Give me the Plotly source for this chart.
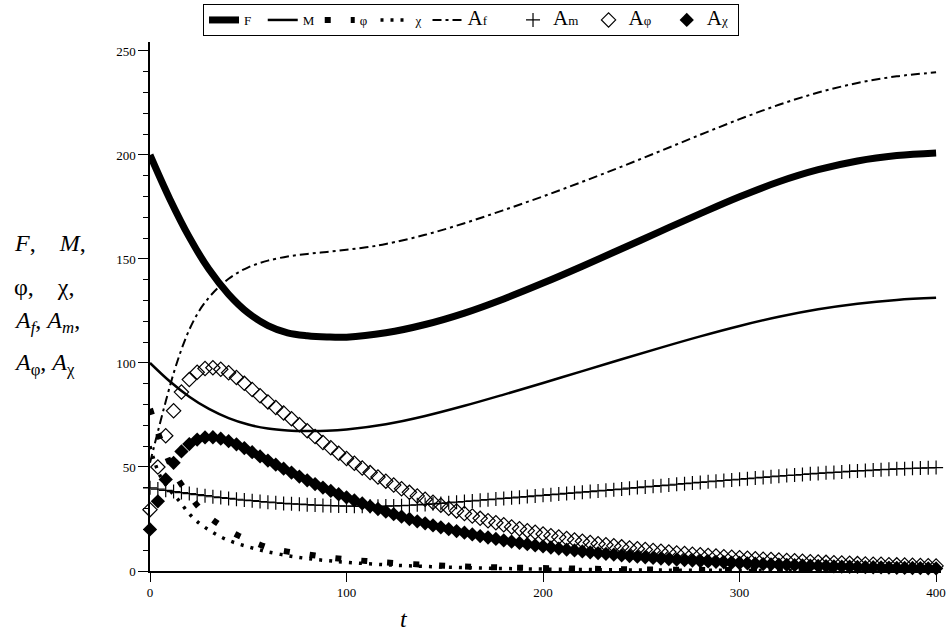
import plotly.graph_objects as go

# ---------------- data ----------------
t_F = [0, 10, 20, 30, 40, 50, 60, 70, 80, 90, 100, 120, 140, 160, 180, 200, 220, 240, 260, 280, 300, 320, 340, 360, 380, 400]
F = [200, 179, 160.5, 145, 133, 124, 118, 114.5, 113.1, 112.5, 112.4, 114.5, 118.5, 124, 130.8, 138.4, 146.5, 154.9, 163.4, 171.8, 179.9, 187.1, 192.9, 197.1, 199.7, 201]

t_M = [0, 10, 20, 30, 40, 50, 60, 70, 80, 90, 100, 120, 140, 160, 180, 200, 220, 240, 260, 280, 300, 320, 340, 360, 380, 400]
M = [100, 91.2, 83.8, 77.9, 73.5, 70.4, 68.5, 67.6, 67.3, 67.4, 68, 70.5, 74.5, 79.4, 84.8, 90.4, 96.1, 101.8, 107.4, 112.8, 117.8, 122.2, 125.8, 128.5, 130.3, 131.3]

t_phi = [0, 5, 10, 15, 20, 25, 30, 35, 40, 45, 50, 60, 70, 80, 90, 100, 110, 120, 140, 160, 180, 200, 220, 240, 260, 280, 300, 340, 400]
phi = [78, 64, 52, 43, 36.5, 30.5, 26, 22.5, 19.5, 17, 15, 11.3, 9.3, 8, 6.6, 5.6, 4.8, 4.1, 3, 2.2, 1.7, 1.4, 1.1, 0.9, 0.7, 0.55, 0.45, 0.3, 0.15]

t_chi = [0, 2, 5, 10, 15, 20, 25, 30, 35, 40, 45, 50, 55, 60, 70, 80, 90, 100, 120, 140, 160, 180, 200, 240, 280, 320, 400]
chi = [60, 53.5, 46, 39, 33.5, 27.5, 23, 19.7, 16.9, 14.7, 13, 11.6, 10.3, 9.2, 7.4, 6, 5, 4.2, 3, 2.2, 1.6, 1.2, 0.9, 0.55, 0.35, 0.2, 0.1]

t_Af = [0, 4, 8, 12, 16, 20, 25, 30, 35, 40, 45, 50, 55, 60, 70, 80, 90, 100, 110, 120, 140, 160, 180, 200, 220, 240, 260, 280, 300, 320, 340, 360, 380, 400]
Af = [52, 67, 81.5, 95, 106.5, 116, 125, 131.5, 136.5, 140.5, 143.6, 146, 147.8, 149.2, 151.2, 152.4, 153.4, 154.4, 155.6, 157.2, 161.6, 167.2, 173.5, 180.1, 187.1, 194.4, 202, 209.7, 217.2, 224.1, 230, 234.6, 237.8, 239.7]

t_marks = [0, 4, 8, 12, 16, 20, 24, 28, 32, 36, 40, 44, 48, 52, 56, 60, 64, 68, 72, 76,
           80, 84, 88, 92, 96, 100, 104, 108, 112, 116, 120, 124, 128, 132, 136, 140, 144, 148, 152, 156,
           160, 164, 168, 172, 176, 180, 184, 188, 192, 196, 200, 204, 208, 212, 216, 220, 224, 228, 232, 236,
           240, 244, 248, 252, 256, 260, 264, 268, 272, 276, 280, 284, 288, 292, 296, 300, 304, 308, 312, 316,
           320, 324, 328, 332, 336, 340, 344, 348, 352, 356, 360, 364, 368, 372, 376, 380, 384, 388, 392, 396, 400]

Am = [40, 39.4, 38.8, 38.2, 37.7, 37.2, 36.7, 36.2, 35.7, 35.3, 34.9, 34.5, 34.1, 33.8, 33.4, 33.1, 32.8, 32.5, 32.3, 32.1,
      31.9, 31.7, 31.5, 31.4, 31.3, 31.2, 31.15, 31.1, 31.1, 31.1, 31.2, 31.3, 31.4, 31.6, 31.8, 32, 32.3, 32.5, 32.8, 33.1,
      33.4, 33.7, 34, 34.3, 34.6, 34.9, 35.2, 35.5, 35.8, 36.1, 36.4, 36.7, 37, 37.3, 37.6, 37.9, 38.2, 38.5, 38.8, 39.1,
      39.4, 39.8, 40.1, 40.4, 40.7, 41, 41.3, 41.7, 42, 42.3, 42.6, 42.9, 43.2, 43.5, 43.8, 44.1, 44.4, 44.7, 45, 45.3,
      45.6, 45.9, 46.1, 46.4, 46.7, 46.9, 47.2, 47.4, 47.6, 47.9, 48.1, 48.3, 48.5, 48.7, 48.9, 49.1, 49.2, 49.4, 49.5, 49.6, 49.7]

A_phi = [29.5, 50, 65, 77, 86, 92, 95.5, 97.3, 97.7, 97, 95.3, 93, 90.2, 87.2, 84.2, 81.3, 78.6, 76, 73.2, 70.3,
         67.4, 64.6, 61.8, 59.2, 56.6, 54.1, 51.8, 49.5, 47.3, 45.2, 43.2, 41.3, 39.5, 37.8, 36.1, 34.5, 33, 31.6, 30.2, 28.9,
         27.6, 26.4, 25.3, 24.2, 23.2, 22.2, 21.2, 20.3, 19.4, 18.6, 17.8, 17, 16.3, 15.6, 14.9, 14.3, 13.7, 13.1, 12.6, 12.1,
         11.6, 11.1, 10.7, 10.3, 9.9, 9.5, 9.1, 8.7, 8.4, 8.1, 7.8, 7.5, 7.2, 6.9, 6.6, 6.4, 6.1, 5.9, 5.7, 5.5,
         5.3, 5.1, 4.9, 4.7, 4.5, 4.3, 4.15, 4, 3.85, 3.7, 3.55, 3.4, 3.3, 3.2, 3.05, 2.95, 2.85, 2.75, 2.65, 2.55, 2.45]

A_chi = [20, 33.5, 44, 52, 57.5, 61, 63.2, 64.2, 64.3, 63.6, 62.4, 60.9, 59.1, 57.1, 55.1, 53.1, 51.1, 49.2, 47.3, 45.4,
         43.6, 41.8, 40.1, 38.5, 36.9, 35.4, 33.9, 32.5, 31.1, 29.8, 28.5, 27.3, 26.1, 25, 23.9, 22.9, 21.9, 21, 20.1, 19.2,
         18.4, 17.6, 16.8, 16.1, 15.4, 14.7, 14.1, 13.5, 12.9, 12.3, 11.8, 11.3, 10.8, 10.3, 9.9, 9.4, 9, 8.6, 8.25, 7.9,
         7.55, 7.2, 6.9, 6.6, 6.3, 6, 5.75, 5.5, 5.25, 5.05, 4.8, 4.6, 4.4, 4.2, 4, 3.85, 3.65, 3.5, 3.35, 3.2,
         3.05, 2.95, 2.8, 2.7, 2.55, 2.45, 2.35, 2.25, 2.15, 2.05, 1.95, 1.85, 1.8, 1.7, 1.65, 1.55, 1.5, 1.45, 1.4, 1.3, 1.25]

y_ticks = [0, 50, 100, 150, 200, 250]
x_ticks = [0, 100, 200, 300, 400]

FONT = "Liberation Serif, Times New Roman, serif"


def big_a(sub, pad):
    return ("<span style='font-size:21px'>A</span>" + sub +
            "<span style='font-size:21px'>" + "&nbsp;" * pad + "</span>")


fig = go.Figure()
fig.add_trace(go.Scatter(x=t_F, y=F, mode="lines", name="F&nbsp;&nbsp;",
                         line=dict(color="black", width=7, shape="spline")))
fig.add_trace(go.Scatter(x=t_M, y=M, mode="lines", name="M",
                         line=dict(color="black", width=2.5, shape="spline")))
fig.add_trace(go.Scatter(x=t_phi, y=phi, mode="lines", name="φ&nbsp;",
                         line=dict(color="black", width=6, dash="6px,20px", shape="spline")))
fig.add_trace(go.Scatter(x=t_chi, y=chi, mode="lines", name="χ",
                         line=dict(color="black", width=3.5, dash="3px,7px", shape="spline")))
fig.add_trace(go.Scatter(x=t_Af, y=Af, mode="lines", name=big_a("f", 4),
                         line=dict(color="black", width=2, dash="9px,4px,3px,4px", shape="spline")))
fig.add_trace(go.Scatter(x=t_marks, y=Am, mode="markers", name=big_a("m", 1),
                         marker=dict(symbol="cross-thin", size=10, line=dict(color="black", width=1.2))))
fig.add_trace(go.Scatter(x=t_marks, y=A_phi, mode="markers", name=big_a("φ", 2),
                         marker=dict(symbol="diamond-open", size=11, color="black", line=dict(color="black", width=1.2))))
fig.add_trace(go.Scatter(x=t_marks, y=A_chi, mode="markers", name=big_a("χ", 1),
                         marker=dict(symbol="diamond", size=11, color="black", line=dict(width=0))))
for tr in fig.data:
    tr.cliponaxis = False

L, R, T, B = 150, 941, 42, 571
W, H = 949, 634


def px_x(p):
    return (p - L) / (R - L)


def px_y(p):
    return (B - p) / (B - T)


fig.update_layout(
    width=W, height=H,
    margin=dict(l=L, r=W - R, t=T, b=H - B, autoexpand=False),
    paper_bgcolor="white", plot_bgcolor="white",
    font=dict(family=FONT, size=13, color="black"),
    showlegend=True,
    legend=dict(orientation="h", x=px_x(203), y=px_y(4), xanchor="left", yanchor="top",
                bordercolor="black", borderwidth=1, bgcolor="white",
                font=dict(family=FONT, size=13, color="black"),
                itemwidth=30, tracegroupgap=0),
    xaxis=dict(range=[0, 402.5], tickvals=x_ticks, showline=True, linecolor="black", linewidth=1.5,
               ticks="outside", ticklen=9, tickwidth=1, tickcolor="black", showgrid=False, zeroline=False,
               tickfont=dict(family=FONT, size=13)),
    yaxis=dict(range=[0, 254.3], tickvals=y_ticks, showline=True, linecolor="black", linewidth=1.5,
               ticks="outside", ticklen=10, tickwidth=1, tickcolor="black", showgrid=False, zeroline=False,
               tickfont=dict(family=FONT, size=13),
               minor=dict(dtick=10, ticks="outside", ticklen=5, tickcolor="black", tickwidth=1, showgrid=False)),
)

ylab = [
    ("<i>F</i>,&nbsp;&nbsp;&nbsp;&nbsp;<i>M</i>,", 243),
    ("φ,&nbsp;&nbsp;&nbsp;&nbsp;χ,", 287),
    ("<i>A<sub>f</sub></i>,&nbsp;<i>A<sub>m</sub></i>,", 322),
    ("<i>A</i><sub>φ</sub>,&nbsp;<i>A</i><sub>χ</sub>", 364),
]
for txt, py in ylab:
    fig.add_annotation(text=txt, xref="paper", yref="paper", x=px_x(12), y=px_y(py),
                       xanchor="left", yanchor="middle", showarrow=False,
                       font=dict(family=FONT, size=24, color="black"))

fig.add_annotation(text="<i>t</i>", xref="paper", yref="paper", x=px_x(404), y=px_y(619),
                   xanchor="center", yanchor="middle", showarrow=False,
                   font=dict(family=FONT, size=24, color="black"))

fig.write_html("out.html", config={"displayModeBar": False},
               post_script="document.body.style.margin='0';document.body.style.padding='0';")
